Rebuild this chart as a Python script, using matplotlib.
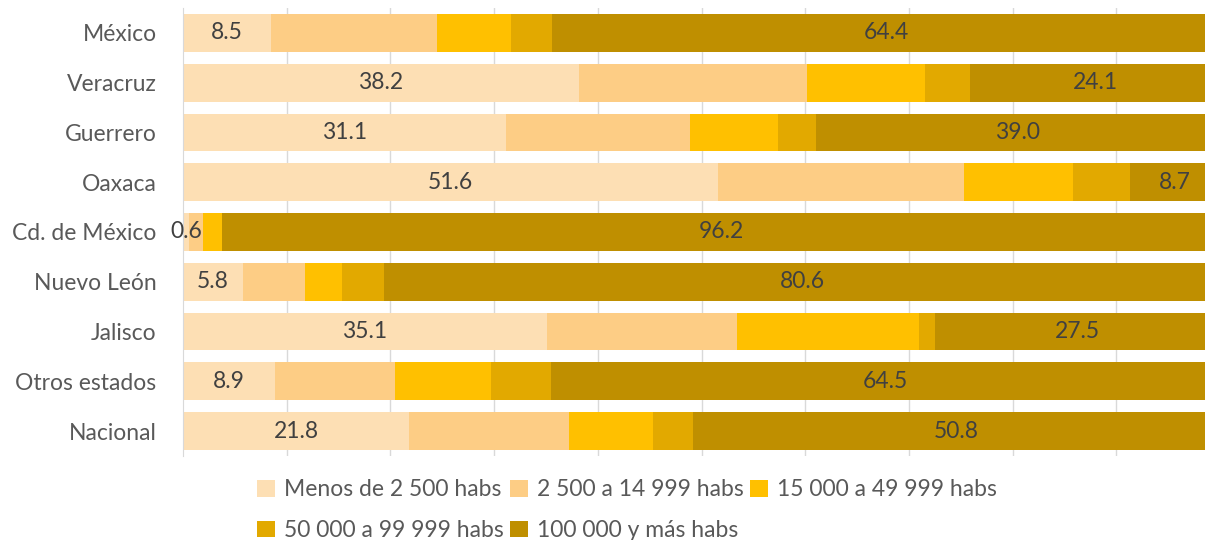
import matplotlib.pyplot as plt

plt.rcParams['font.family'] = ['Lato', 'DejaVu Sans']

estados = ['México', 'Veracruz', 'Guerrero', 'Oaxaca', 'Cd. de México',
           'Nuevo León', 'Jalisco', 'Otros estados', 'Nacional']
menos_2500 = [8.5, 38.2, 31.1, 51.6, 0.6, 5.8, 35.1, 8.9, 21.8]
de_2500 = [16.0, 22.0, 17.8, 23.7, 1.3, 6.0, 18.3, 11.5, 15.4]
de_15000 = [7.1, 11.4, 8.5, 10.5, 1.9, 3.5, 17.6, 9.3, 8.1]
de_50000 = [4.0, 4.3, 3.6, 5.5, 0.0, 4.1, 1.5, 5.8, 3.9]
mas_100000 = [64.4, 24.1, 39.0, 8.7, 96.2, 80.6, 27.5, 64.5, 50.8]

series = [menos_2500, de_2500, de_15000, de_50000, mas_100000]
nombres = ['Menos de 2 500 habs', '2 500 a 14 999 habs', '15 000 a 49 999 habs',
           '50 000 a 99 999 habs', '100 000 y más habs']
colores = ['#FDDFB4', '#FDCD85', '#FFC000', '#E2A900', '#BF8F00']

fig = plt.figure(figsize=(12.05, 5.4), dpi=100)
# the plot area runs past the right edge of the picture, as in the original
ax = fig.add_axes([183 / 1205, 84 / 540, 1037 / 1205, 448 / 540])

y = list(range(len(estados)))
left = [0.0] * len(estados)
handles = []
for i, (vals, nombre, color) in enumerate(zip(series, nombres, colores)):
    bars = ax.barh(y, vals, left=left, height=0.76, color=color, label=nombre, zorder=2)
    handles.append(bars)
    if i in (0, 4):
        ax.bar_label(bars, labels=[f'{v:.1f}' for v in vals], label_type='center',
                     fontsize=16.5, color='#404040')
    left = [a + b for a, b in zip(left, vals)]

ax.set_xlim(0, 100)
ax.set_ylim(len(estados) - 0.5, -0.5)
ax.set_yticks(y)
ax.set_yticklabels(estados, fontsize=16.5, color='#595959')
ax.tick_params(axis='y', length=0, pad=19)
ax.set_xticks(range(10, 100, 10))
ax.tick_params(axis='x', length=0, labelbottom=False)
ax.grid(axis='x', color='#D9D9D9', lw=1, zorder=0)
for s in ['top', 'right', 'bottom']:
    ax.spines[s].set_visible(False)
ax.spines['left'].set_color('#D9D9D9')

# legend filled row by row
orden = [0, 3, 1, 4, 2]
fig.legend([handles[k] for k in orden], [nombres[k] for k in orden],
           loc='upper left', bbox_to_anchor=(246 / 1205, 1 - 468 / 540), ncol=3,
           frameon=False, fontsize=16.5, handlelength=0.75, handleheight=0.75,
           handletextpad=0.4, columnspacing=0.3, labelcolor='#595959',
           labelspacing=0.85, borderpad=0)

fig.savefig('out.png', dpi=100)
